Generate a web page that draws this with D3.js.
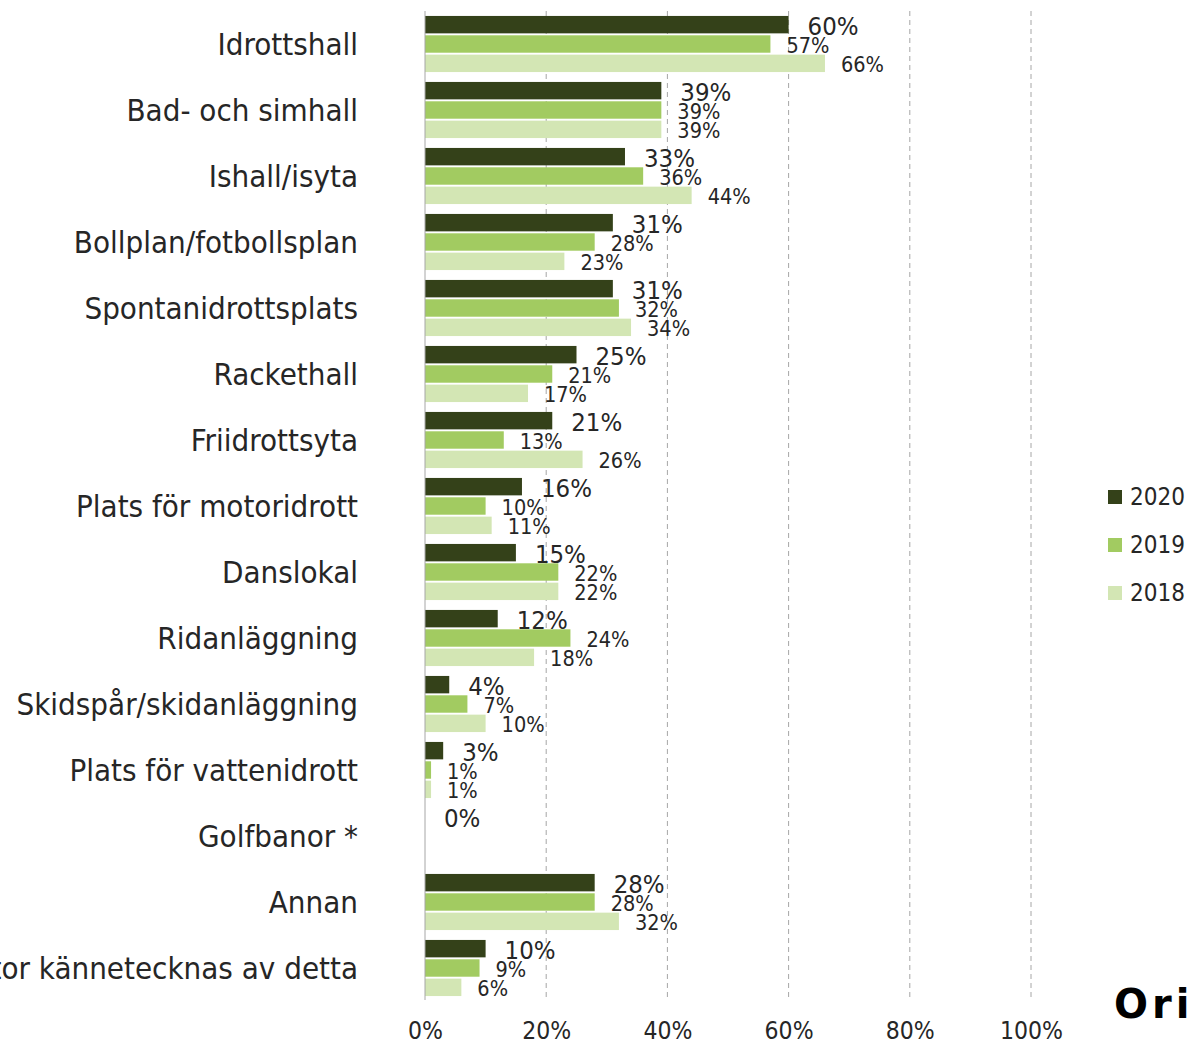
<!DOCTYPE html>
<html><head><meta charset="utf-8">
<script src="https://cdn.jsdelivr.net/npm/d3@7"></script>
<style>
html,body{margin:0;padding:0;background:#fff;overflow:hidden}
svg{display:block}
text{font-family:"DejaVu Sans Condensed","DejaVu Sans",sans-serif;fill:#262626}
</style></head>
<body>
<svg id="chart" width="1191" height="1043"></svg>
<script>
const categories = ["Idrottshall","Bad- och simhall","Ishall/isyta","Bollplan/fotbollsplan","Spontanidrottsplats","Rackethall","Friidrottsyta","Plats för motoridrott","Danslokal","Ridanläggning","Skidspår/skidanläggning","Plats för vattenidrott","Golfbanor *","Annan","Ingen sektor kännetecknas av detta"];
const years = ["2020","2019","2018"];
const values2020 = [60,39,33,31,31,25,21,16,15,12,4,3,0,28,10];
const values2019 = [57,39,36,28,32,21,13,10,22,24,7,1,null,28,9];
const values2018 = [66,39,44,23,34,17,26,11,22,18,10,1,null,32,6];
const xTicks = [0,20,40,60,80,100];
const colors = {"2020":"#344119","2019":"#a2cb61","2018":"#d3e6b4"};
const logoText = "Origo";

const series = {"2020":values2020,"2019":values2019,"2018":values2018};
const svg = d3.select("#chart");

const x = d3.scaleLinear().domain([0,100]).range([425,1031]);
const y = d3.scaleBand().domain(categories).range([11,1001]).paddingInner(0.15).paddingOuter(0.075);
const yInner = d3.scaleBand().domain(years).range([0,y.bandwidth()]).paddingInner(0.1);

// gridlines
svg.append("g").selectAll("line").data(xTicks.filter(d=>d>0)).join("line")
  .attr("x1",d=>x(d)).attr("x2",d=>x(d)).attr("y1",11).attr("y2",1000)
  .attr("stroke","#a6a6a6").attr("stroke-width",1).attr("stroke-dasharray","5,4");

// axis tick labels
const xAxis = d3.axisBottom(x).tickValues(xTicks).tickFormat(d=>d+"%").tickSize(0).tickPadding(0);
const ax = svg.append("g").attr("transform","translate(0,1021)").call(xAxis);
ax.select(".domain").remove();
ax.selectAll("text").attr("font-size",24.5).attr("dy","0.75em")
  .style("font-family",'"DejaVu Sans Condensed","DejaVu Sans",sans-serif').attr("fill","#262626");

// bars
const groups = svg.append("g").selectAll("g").data(categories).join("g")
  .attr("transform",d=>`translate(0,${y(d)})`);

years.forEach(yr=>{
  groups.append("rect")
    .filter((d,i)=>series[yr][i]!==null)
    .attr("x",x(0))
    .attr("y",yInner(yr))
    .attr("width",(d)=>x(series[yr][categories.indexOf(d)])-x(0))
    .attr("height",yInner.bandwidth())
    .attr("fill",colors[yr]);
});
// labels
years.forEach(yr=>{
  const big = yr==="2020";
  groups.each(function(d,i){
    const v = series[yr][i];
    if(v===null) return;
    d3.select(this).append("text")
      .attr("x",x(v)+(big?19:16))
      .attr("y",yInner(yr)+yInner.bandwidth()/2+1)
      .attr("dy","0.35em")
      .attr("font-size",big?25.5:21.5)
      .text(v+"%");
  });
});

// axis line
svg.append("line").attr("x1",x(0)).attr("x2",x(0)).attr("y1",11).attr("y2",1000)
  .attr("stroke","#a6a6a6").attr("stroke-width",1);

// category labels
svg.append("g").selectAll("text").data(categories).join("text")
  .attr("x",358).attr("y",d=>y(d)+y.bandwidth()/2)
  .attr("dy","0.35em").attr("text-anchor","end").attr("font-size",31)
  .text(d=>d);

// legend
const lg = svg.append("g").attr("transform","translate(1108,497)");
years.forEach((yr,i)=>{
  lg.append("rect").attr("x",0).attr("y",i*48-7).attr("width",14).attr("height",14).attr("fill",colors[yr]);
  lg.append("text").attr("x",22).attr("y",i*48).attr("dy","0.35em").attr("font-size",24).text(yr);
});

// logo
svg.append("text").attr("x",1114).attr("y",1018).attr("font-size",40).attr("font-weight","bold")
  .attr("letter-spacing",4)
  .style("font-family",'"DejaVu Sans",sans-serif').style("fill","#000").text(logoText);
</script>
</body></html>
